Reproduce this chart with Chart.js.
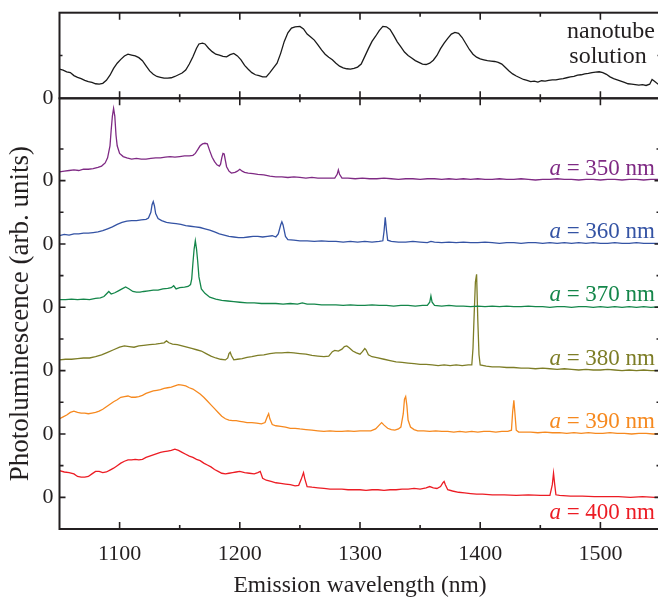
<!DOCTYPE html>
<html>
<head>
<meta charset="utf-8">
<script src="https://cdn.jsdelivr.net/npm/chart.js@4.4.0/dist/chart.umd.min.js"></script>
<style>
  html, body { margin: 0; padding: 0; background: #fff; overflow: hidden; }
  #wrap { position: relative; width: 662px; height: 600px; }
  .box { position: absolute; left: 0; top: 0; width: 662px; }
</style>
</head>
<body>
<div id="wrap">
  <div class="box" style="height:115px"><canvas id="topChart"></canvas></div>
  <div class="box" style="height:600px"><canvas id="mainChart"></canvas></div>
</div>
<script>
const FONT = 'Liberation Serif';
const INK = '#231f20';

const xMin = 1050;
const xMax = 1550;

const seriesNames = ['350', '360', '370', '380', '390', '400'];
const seriesColors = ['#7f2a84', '#3453a4', '#14864a', '#7d7d26', '#f6891f', '#ec1c24'];
const seriesOffsets = [5, 4, 3, 2, 1, 0];

// nanotube solution spectrum (top panel), [wavelength nm, intensity]
const solution = [
  [1050,0.68],[1053,0.66],[1056,0.62],[1059,0.60],[1062,0.53],[1065,0.49],[1068,0.46],[1071,0.42],
  [1074,0.39],[1077,0.37],[1080,0.34],[1083,0.33],[1086,0.35],[1089,0.42],[1092,0.54],[1095,0.70],
  [1098,0.82],[1101,0.91],[1104,0.99],[1107,1.03],[1110,1.01],[1113,0.99],[1116,0.95],[1119,0.88],
  [1122,0.76],[1125,0.64],[1128,0.56],[1131,0.51],[1134,0.49],[1137,0.47],[1140,0.47],[1143,0.48],
  [1146,0.51],[1149,0.55],[1152,0.59],[1155,0.66],[1158,0.80],[1161,0.97],[1164,1.17],[1166,1.27],
  [1169,1.29],[1171,1.27],[1174,1.17],[1177,1.09],[1180,1.03],[1183,1.01],[1186,0.98],[1189,0.97],
  [1192,1.02],[1195,1.05],[1198,0.99],[1201,0.90],[1204,0.77],[1207,0.68],[1210,0.60],[1213,0.55],
  [1216,0.53],[1219,0.50],[1222,0.50],[1225,0.60],[1228,0.71],[1231,0.82],[1234,1.05],[1237,1.33],
  [1240,1.53],[1243,1.64],[1246,1.67],[1250,1.68],[1253,1.62],[1256,1.50],[1259,1.43],[1262,1.36],
  [1265,1.25],[1268,1.13],[1271,1.03],[1274,0.96],[1277,0.90],[1280,0.82],[1283,0.75],[1286,0.71],
  [1289,0.69],[1292,0.68],[1295,0.70],[1298,0.73],[1301,0.80],[1304,0.98],[1307,1.16],[1310,1.33],
  [1313,1.45],[1316,1.58],[1319,1.68],[1322,1.67],[1325,1.61],[1328,1.47],[1331,1.32],[1334,1.20],
  [1337,1.08],[1340,1.00],[1343,0.94],[1346,0.88],[1349,0.84],[1352,0.80],[1355,0.79],[1358,0.82],
  [1361,0.89],[1364,1.00],[1367,1.16],[1370,1.29],[1373,1.40],[1376,1.50],[1379,1.54],[1382,1.52],
  [1385,1.42],[1388,1.28],[1391,1.14],[1394,1.03],[1397,0.96],[1400,0.92],[1403,0.90],[1406,0.88],
  [1409,0.87],[1412,0.86],[1415,0.84],[1418,0.80],[1421,0.72],[1424,0.64],[1427,0.57],[1430,0.52],
  [1433,0.48],[1436,0.44],[1439,0.42],[1442,0.39],[1445,0.40],[1448,0.38],[1451,0.41],[1454,0.40],
  [1457,0.42],[1460,0.43],[1463,0.43],[1466,0.45],[1469,0.46],[1472,0.48],[1475,0.50],[1478,0.51],
  [1481,0.54],[1484,0.55],[1487,0.57],[1490,0.58],[1493,0.60],[1496,0.61],[1499,0.62],[1502,0.60],
  [1505,0.56],[1508,0.50],[1511,0.46],[1514,0.43],[1517,0.40],[1520,0.37],[1523,0.34],[1526,0.33],
  [1529,0.32],[1532,0.31],[1535,0.32],[1538,0.30],[1541,0.33],[1543,0.44],[1545,0.40],[1548,0.33],
  [1550,0.34]
];

// a = 350 nm
const pl350 = [
  [1050,0.14],[1054,0.15],[1058,0.16],[1062,0.17],[1066,0.16],[1070,0.18],[1074,0.18],[1078,0.19],
  [1082,0.21],[1085,0.23],[1088,0.28],[1090,0.36],[1092,0.55],[1093,0.80],[1094,1.02],[1095,1.14],
  [1096,1.02],[1097,0.72],[1098,0.55],[1100,0.43],[1103,0.38],[1106,0.36],[1110,0.34],[1114,0.35],
  [1118,0.34],[1122,0.34],[1126,0.35],[1130,0.36],[1134,0.36],[1138,0.37],[1142,0.38],[1146,0.37],
  [1150,0.38],[1154,0.39],[1158,0.39],[1161,0.40],[1163,0.43],[1165,0.49],[1167,0.55],[1169,0.58],
  [1171,0.59],[1173,0.58],[1175,0.47],[1177,0.37],[1179,0.30],[1181,0.25],[1183,0.23],[1184,0.26],
  [1185,0.36],[1186,0.43],[1187,0.42],[1188,0.32],[1189,0.22],[1191,0.15],[1193,0.12],[1196,0.13],
  [1198,0.15],[1200,0.18],[1202,0.15],[1204,0.13],[1207,0.12],[1211,0.11],[1215,0.10],[1220,0.09],
  [1225,0.07],[1230,0.06],[1235,0.06],[1240,0.05],[1245,0.06],[1250,0.05],[1255,0.04],[1260,0.05],
  [1265,0.04],[1270,0.04],[1275,0.04],[1279,0.04],[1281,0.10],[1282,0.17],[1283,0.10],[1285,0.04],
  [1290,0.04],[1296,0.03],[1302,0.04],[1308,0.03],[1314,0.03],[1320,0.04],[1326,0.03],[1332,0.02],
  [1338,0.03],[1344,0.03],[1350,0.02],[1356,0.03],[1362,0.03],[1368,0.02],[1374,0.03],[1380,0.02],
  [1386,0.03],[1392,0.02],[1398,0.03],[1404,0.02],[1410,0.02],[1416,0.03],[1422,0.02],[1428,0.02],
  [1434,0.03],[1440,0.02],[1446,0.01],[1452,0.02],[1458,0.02],[1464,0.03],[1470,0.02],[1476,0.02],
  [1482,0.01],[1488,0.02],[1494,0.02],[1500,0.01],[1506,0.02],[1512,0.02],[1518,0.01],[1524,0.02],
  [1530,0.02],[1536,0.01],[1542,0.02],[1550,0.02]
];

// a = 360 nm
const pl360 = [
  [1050,0.13],[1054,0.15],[1058,0.14],[1062,0.16],[1066,0.16],[1070,0.17],[1074,0.17],[1078,0.18],
  [1082,0.19],[1086,0.21],[1090,0.24],[1094,0.27],[1098,0.31],[1102,0.34],[1106,0.36],[1110,0.37],
  [1114,0.37],[1118,0.38],[1122,0.39],[1124,0.41],[1126,0.50],[1127,0.62],[1128,0.67],[1129,0.60],
  [1130,0.48],[1132,0.40],[1135,0.37],[1139,0.34],[1143,0.33],[1147,0.32],[1151,0.31],[1155,0.29],
  [1159,0.28],[1163,0.27],[1167,0.26],[1171,0.24],[1175,0.22],[1179,0.19],[1183,0.16],[1187,0.14],
  [1191,0.12],[1195,0.11],[1199,0.10],[1203,0.10],[1207,0.11],[1211,0.12],[1215,0.12],[1219,0.11],
  [1223,0.12],[1227,0.13],[1230,0.11],[1232,0.16],[1234,0.30],[1235,0.35],[1236,0.30],[1238,0.12],
  [1240,0.07],[1245,0.06],[1250,0.05],[1256,0.05],[1262,0.04],[1268,0.05],[1274,0.04],[1280,0.04],
  [1286,0.03],[1292,0.04],[1298,0.03],[1304,0.04],[1310,0.03],[1316,0.04],[1319,0.05],[1320,0.20],
  [1321,0.42],[1322,0.22],[1323,0.06],[1326,0.04],[1332,0.03],[1338,0.03],[1344,0.04],[1350,0.03],
  [1356,0.02],[1359,0.04],[1362,0.03],[1368,0.02],[1374,0.03],[1380,0.02],[1386,0.03],[1392,0.02],
  [1398,0.02],[1404,0.03],[1410,0.02],[1416,0.01],[1422,0.02],[1428,0.02],[1434,0.01],[1440,0.02],
  [1446,0.02],[1452,0.01],[1458,0.02],[1464,0.01],[1470,0.02],[1476,0.01],[1482,0.02],[1488,0.01],
  [1494,0.02],[1500,0.01],[1506,0.01],[1512,0.02],[1518,0.01],[1524,0.01],[1530,0.02],[1536,0.01],
  [1542,0.01],[1550,0.01]
];

// a = 370 nm
const pl370 = [
  [1050,0.12],[1055,0.12],[1060,0.13],[1065,0.12],[1070,0.13],[1075,0.12],[1080,0.14],[1084,0.15],
  [1087,0.17],[1089,0.21],[1091,0.25],[1093,0.21],[1096,0.23],[1099,0.26],[1102,0.29],[1105,0.32],
  [1108,0.29],[1111,0.25],[1114,0.24],[1117,0.24],[1120,0.25],[1124,0.26],[1128,0.27],[1132,0.27],
  [1136,0.29],[1140,0.30],[1143,0.31],[1145,0.34],[1147,0.29],[1150,0.31],[1154,0.32],[1157,0.33],
  [1159,0.36],[1160,0.45],[1161,0.70],[1162,0.92],[1163,1.05],[1164,0.92],[1165,0.72],[1166,0.48],
  [1168,0.29],[1171,0.22],[1175,0.16],[1180,0.13],[1185,0.11],[1190,0.10],[1195,0.09],[1200,0.08],
  [1206,0.07],[1212,0.07],[1218,0.06],[1224,0.06],[1230,0.06],[1236,0.05],[1242,0.06],[1248,0.05],
  [1252,0.07],[1256,0.05],[1262,0.05],[1268,0.04],[1274,0.04],[1280,0.04],[1286,0.03],[1292,0.04],
  [1298,0.03],[1304,0.03],[1310,0.04],[1316,0.03],[1322,0.03],[1328,0.02],[1334,0.03],[1340,0.03],
  [1346,0.02],[1352,0.03],[1356,0.03],[1358,0.08],[1359,0.18],[1360,0.08],[1362,0.03],[1368,0.02],
  [1374,0.03],[1380,0.02],[1386,0.02],[1392,0.01],[1398,0.02],[1404,0.01],[1410,0.02],[1416,0.01],
  [1422,0.02],[1428,0.01],[1434,0.01],[1440,0.02],[1446,0.01],[1452,0.01],[1458,0.00],[1464,0.01],
  [1470,0.01],[1476,0.00],[1482,0.01],[1488,0.01],[1494,0.00],[1500,0.01],[1506,0.00],[1512,0.01],
  [1518,0.00],[1524,0.01],[1530,0.00],[1536,0.01],[1542,0.00],[1550,0.01]
];

// a = 380 nm
const pl380 = [
  [1050,0.17],[1055,0.18],[1060,0.18],[1065,0.19],[1070,0.20],[1075,0.20],[1080,0.22],[1085,0.25],
  [1090,0.29],[1095,0.33],[1100,0.37],[1104,0.39],[1108,0.38],[1112,0.37],[1116,0.39],[1120,0.40],
  [1125,0.41],[1130,0.42],[1134,0.43],[1137,0.44],[1139,0.47],[1141,0.44],[1144,0.42],[1148,0.41],
  [1152,0.39],[1156,0.37],[1160,0.35],[1164,0.33],[1168,0.31],[1172,0.27],[1176,0.23],[1180,0.20],
  [1184,0.18],[1188,0.17],[1190,0.20],[1191,0.27],[1192,0.29],[1193,0.24],[1195,0.17],[1198,0.18],
  [1202,0.19],[1206,0.21],[1210,0.22],[1215,0.24],[1220,0.25],[1225,0.27],[1230,0.28],[1235,0.28],
  [1240,0.29],[1245,0.28],[1250,0.27],[1255,0.26],[1260,0.24],[1265,0.23],[1270,0.22],[1274,0.23],
  [1277,0.30],[1279,0.32],[1282,0.31],[1285,0.34],[1287,0.38],[1289,0.39],[1291,0.36],[1294,0.31],
  [1297,0.28],[1300,0.26],[1302,0.30],[1304,0.35],[1305,0.33],[1307,0.25],[1310,0.22],[1315,0.20],
  [1320,0.18],[1325,0.16],[1330,0.14],[1335,0.13],[1340,0.12],[1345,0.11],[1350,0.10],[1355,0.10],
  [1360,0.09],[1365,0.08],[1370,0.09],[1375,0.08],[1380,0.09],[1385,0.08],[1390,0.09],[1393,0.09],
  [1394,0.35],[1395,0.90],[1396,1.40],[1397,1.52],[1398,0.80],[1399,0.25],[1400,0.09],[1405,0.07],
  [1410,0.06],[1416,0.06],[1422,0.05],[1428,0.05],[1434,0.04],[1440,0.04],[1446,0.03],[1452,0.04],
  [1458,0.03],[1464,0.02],[1470,0.03],[1476,0.02],[1482,0.01],[1488,0.02],[1494,0.01],[1500,0.01],
  [1506,0.02],[1512,0.01],[1518,0.00],[1524,0.01],[1530,0.00],[1536,0.01],[1542,0.00],[1550,0.00]
];

// a = 390 nm
const pl390 = [
  [1050,0.24],[1053,0.27],[1056,0.30],[1059,0.34],[1062,0.36],[1065,0.34],[1068,0.33],[1071,0.33],
  [1074,0.32],[1077,0.33],[1080,0.34],[1083,0.36],[1086,0.39],[1089,0.43],[1092,0.47],[1095,0.51],
  [1098,0.54],[1101,0.58],[1104,0.59],[1107,0.60],[1110,0.58],[1113,0.58],[1116,0.59],[1119,0.61],
  [1122,0.64],[1125,0.66],[1128,0.68],[1131,0.69],[1134,0.70],[1137,0.72],[1140,0.73],[1143,0.74],
  [1146,0.76],[1149,0.78],[1152,0.77],[1155,0.76],[1158,0.73],[1161,0.71],[1164,0.67],[1167,0.63],
  [1170,0.58],[1173,0.52],[1176,0.46],[1179,0.40],[1182,0.34],[1185,0.28],[1188,0.24],[1191,0.22],
  [1194,0.21],[1197,0.21],[1200,0.20],[1203,0.19],[1206,0.18],[1210,0.18],[1214,0.17],[1218,0.16],
  [1221,0.18],[1223,0.28],[1224,0.32],[1225,0.24],[1227,0.15],[1230,0.13],[1234,0.12],[1238,0.11],
  [1242,0.09],[1246,0.09],[1250,0.08],[1255,0.07],[1260,0.06],[1265,0.05],[1270,0.04],[1275,0.05],
  [1280,0.04],[1285,0.04],[1290,0.05],[1295,0.04],[1300,0.05],[1305,0.05],[1309,0.05],[1313,0.08],
  [1316,0.14],[1318,0.18],[1320,0.14],[1323,0.09],[1326,0.07],[1329,0.06],[1332,0.08],[1334,0.11],
  [1336,0.32],[1337,0.55],[1338,0.59],[1339,0.45],[1340,0.22],[1342,0.11],[1345,0.07],[1348,0.05],
  [1353,0.05],[1358,0.04],[1363,0.05],[1368,0.04],[1373,0.04],[1378,0.03],[1383,0.04],[1388,0.03],
  [1393,0.04],[1398,0.03],[1403,0.04],[1408,0.04],[1413,0.03],[1418,0.04],[1423,0.04],[1426,0.06],
  [1427,0.35],[1428,0.53],[1429,0.30],[1430,0.06],[1432,0.03],[1436,0.03],[1442,0.03],[1448,0.02],
  [1454,0.03],[1460,0.02],[1466,0.02],[1472,0.01],[1478,0.02],[1484,0.01],[1490,0.02],[1496,0.01],
  [1502,0.01],[1508,0.02],[1514,0.01],[1520,0.01],[1526,0.00],[1532,0.01],[1538,0.01],[1544,0.00],
  [1550,0.01]
];

// a = 400 nm
const pl400 = [
  [1050,0.42],[1054,0.40],[1058,0.39],[1062,0.37],[1065,0.33],[1068,0.32],[1071,0.32],[1074,0.33],
  [1077,0.37],[1080,0.41],[1083,0.41],[1086,0.39],[1089,0.40],[1092,0.43],[1095,0.46],[1098,0.50],
  [1101,0.54],[1104,0.57],[1107,0.59],[1110,0.59],[1113,0.60],[1116,0.59],[1119,0.60],[1122,0.63],
  [1125,0.65],[1128,0.67],[1131,0.69],[1134,0.71],[1137,0.72],[1140,0.73],[1143,0.74],[1146,0.76],
  [1149,0.74],[1152,0.71],[1155,0.68],[1158,0.65],[1161,0.63],[1164,0.60],[1167,0.58],[1170,0.54],
  [1173,0.51],[1176,0.48],[1179,0.44],[1182,0.41],[1185,0.38],[1188,0.37],[1191,0.38],[1194,0.39],
  [1197,0.40],[1200,0.41],[1204,0.39],[1208,0.38],[1212,0.37],[1215,0.39],[1217,0.41],[1219,0.30],
  [1222,0.27],[1226,0.25],[1230,0.23],[1234,0.22],[1238,0.21],[1242,0.20],[1246,0.18],[1249,0.19],
  [1251,0.28],[1253,0.39],[1254,0.30],[1256,0.17],[1260,0.16],[1265,0.15],[1270,0.14],[1275,0.13],
  [1280,0.13],[1285,0.13],[1290,0.12],[1295,0.12],[1300,0.12],[1305,0.11],[1310,0.12],[1315,0.12],
  [1320,0.11],[1325,0.12],[1330,0.12],[1335,0.13],[1340,0.13],[1345,0.14],[1350,0.13],[1355,0.15],
  [1358,0.17],[1361,0.15],[1364,0.14],[1367,0.17],[1369,0.23],[1370,0.25],[1371,0.20],[1373,0.12],
  [1377,0.10],[1382,0.08],[1387,0.07],[1392,0.06],[1397,0.05],[1402,0.05],[1410,0.04],[1420,0.04],
  [1430,0.03],[1440,0.04],[1450,0.03],[1458,0.03],[1460,0.20],[1461,0.38],[1462,0.20],[1463,0.04],
  [1466,0.03],[1475,0.02],[1485,0.02],[1495,0.01],[1505,0.01],[1515,0.01],[1525,0.00],[1535,0.01],
  [1545,0.00],[1550,0.00]
];

const seriesData = [pl350, pl360, pl370, pl380, pl390, pl400];

Chart.defaults.font.family = FONT;
Chart.defaults.color = INK;

// keep the plot box exactly where the axes were sized, no label overhang padding
function fixX(height) {
  return s => { s.height = height; s.paddingLeft = 0; s.paddingRight = 0; };
}
function fixY(width) {
  return s => { s.width = width; s.paddingTop = 0; s.paddingBottom = 0; };
}

// box frame with inward ticks on all four sides
const frameTicks = {
  id: 'frameTicks',
  afterDraw(chart, args, opts) {
    const { ctx, chartArea: a, scales: { x, y } } = chart;
    ctx.save();
    ctx.strokeStyle = INK;
    ctx.lineWidth = 2;
    ctx.strokeRect(a.left, a.top, a.right - a.left, a.bottom - a.top);
    ctx.lineWidth = 1.6;
    ctx.beginPath();
    x.ticks.forEach(t => {
      if (t.value <= x.min || t.value >= x.max) return;
      const px = x.getPixelForValue(t.value);
      const len = t.value % 100 === 0 ? 7 : 4;
      ctx.moveTo(px, a.top); ctx.lineTo(px, a.top + len);
      ctx.moveTo(px, a.bottom); ctx.lineTo(px, a.bottom - len);
    });
    y.ticks.forEach(t => {
      if (t.value <= y.min || t.value >= y.max) return;
      const py = y.getPixelForValue(t.value);
      const len = Number.isInteger(t.value) ? opts.yMajor : opts.yMinor;
      ctx.moveTo(a.left, py); ctx.lineTo(a.left + len, py);
      ctx.moveTo(a.right, py); ctx.lineTo(a.right - len, py);
    });
    ctx.stroke();
    ctx.restore();
  }
};

// "a = ... nm" labels at the right end of every trace
const traceLabels = {
  id: 'traceLabels',
  afterDatasetsDraw(chart) {
    const { ctx, chartArea: a, scales: { y } } = chart;
    const right = a.right - 5.5;
    ctx.save();
    ctx.textBaseline = 'alphabetic';
    seriesNames.forEach((name, i) => {
      const last = i === seriesNames.length - 1;
      const base = y.getPixelForValue(seriesOffsets[i]) + (last ? 22 : -6);
      const rest = ' = ' + name + ' nm';
      ctx.font = '23px ' + FONT;
      const wRest = ctx.measureText(rest).width;
      ctx.fillStyle = seriesColors[i];
      ctx.fillText(rest, right - wRest, base);
      ctx.font = 'italic 23px ' + FONT;
      const wA = ctx.measureText('a').width;
      ctx.fillText('a', right - wRest - wA, base);
    });
    ctx.restore();
  }
};

const solutionLabel = {
  id: 'solutionLabel',
  afterDatasetsDraw(chart) {
    const { ctx, chartArea: a } = chart;
    ctx.save();
    ctx.fillStyle = INK;
    ctx.font = '24px ' + FONT;
    ctx.textAlign = 'center';
    ctx.textBaseline = 'alphabetic';
    ctx.fillText('nanotube', 611, a.top + 25.6);
    ctx.fillText('solution', 608, a.top + 50);
    ctx.restore();
  }
};

new Chart(document.getElementById('topChart'), {
  type: 'line',
  data: {
    datasets: [{
      data: solution.map(([w, v]) => ({ x: w, y: v })),
      borderColor: '#1a1a1a',
      borderWidth: 1.3,
      pointRadius: 0,
      tension: 0
    }]
  },
  options: {
    responsive: true,
    maintainAspectRatio: false,
    animation: false,
    layout: { padding: { top: 12.7, bottom: 16.7, left: 0, right: 1.5 } },
    plugins: { legend: { display: false }, tooltip: { enabled: false }, frameTicks: { yMajor: 3, yMinor: 3 } },
    scales: {
      x: {
        type: 'linear', min: xMin, max: xMax,
        grid: { display: false, drawTicks: false }, border: { display: false },
        ticks: { display: false, stepSize: 50, padding: 0 },
        afterFit: fixX(0)
      },
      y: {
        min: 0, max: 2,
        grid: { display: false, drawTicks: false }, border: { display: false },
        ticks: { stepSize: 1, padding: 6, font: { size: 22 }, color: INK, callback: v => v === 0 ? '0' : '' },
        afterFit: fixY(59.5)
      }
    }
  },
  plugins: [frameTicks, solutionLabel]
});

new Chart(document.getElementById('mainChart'), {
  type: 'line',
  data: {
    datasets: seriesData.map((arr, i) => ({
      label: seriesNames[i],
      data: arr.map(([w, v]) => ({ x: w, y: v + seriesOffsets[i] })),
      borderColor: seriesColors[i],
      borderWidth: 1.3,
      pointRadius: 0,
      tension: 0
    }))
  },
  options: {
    responsive: true,
    maintainAspectRatio: false,
    animation: false,
    layout: { padding: { top: 98.3, bottom: 0, left: 0, right: 1.5 } },
    plugins: { legend: { display: false }, tooltip: { enabled: false }, frameTicks: { yMajor: 6, yMinor: 4 } },
    scales: {
      x: {
        type: 'linear', min: xMin, max: xMax,
        grid: { display: false, drawTicks: false }, border: { display: false },
        ticks: {
          stepSize: 50, autoSkip: false, maxRotation: 0, padding: 12,
          font: { size: 22 }, color: INK,
          callback: v => v % 100 === 0 ? String(v) : ''
        },
        title: {
          display: true, text: 'Emission wavelength (nm)', color: INK,
          font: { size: 23.5, lineHeight: 1 }, padding: { top: 0, bottom: 2.5 }
        },
        afterFit: fixX(71)
      },
      y: {
        min: -0.5, max: 6.3,
        grid: { display: false, drawTicks: false }, border: { display: false },
        ticks: {
          stepSize: 0.5, autoSkip: false, padding: 6,
          font: { size: 22 }, color: INK,
          callback: v => (Number.isInteger(v) && v >= 0 && v <= 5) ? '0' : ''
        },
        title: {
          display: true, text: 'Photoluminescence (arb. units)', color: INK,
          font: { size: 27, lineHeight: 1 }, padding: { top: 7.5, bottom: 0 }
        },
        afterFit: fixY(59.5)
      }
    }
  },
  plugins: [frameTicks, traceLabels]
});
</script>
</body>
</html>
